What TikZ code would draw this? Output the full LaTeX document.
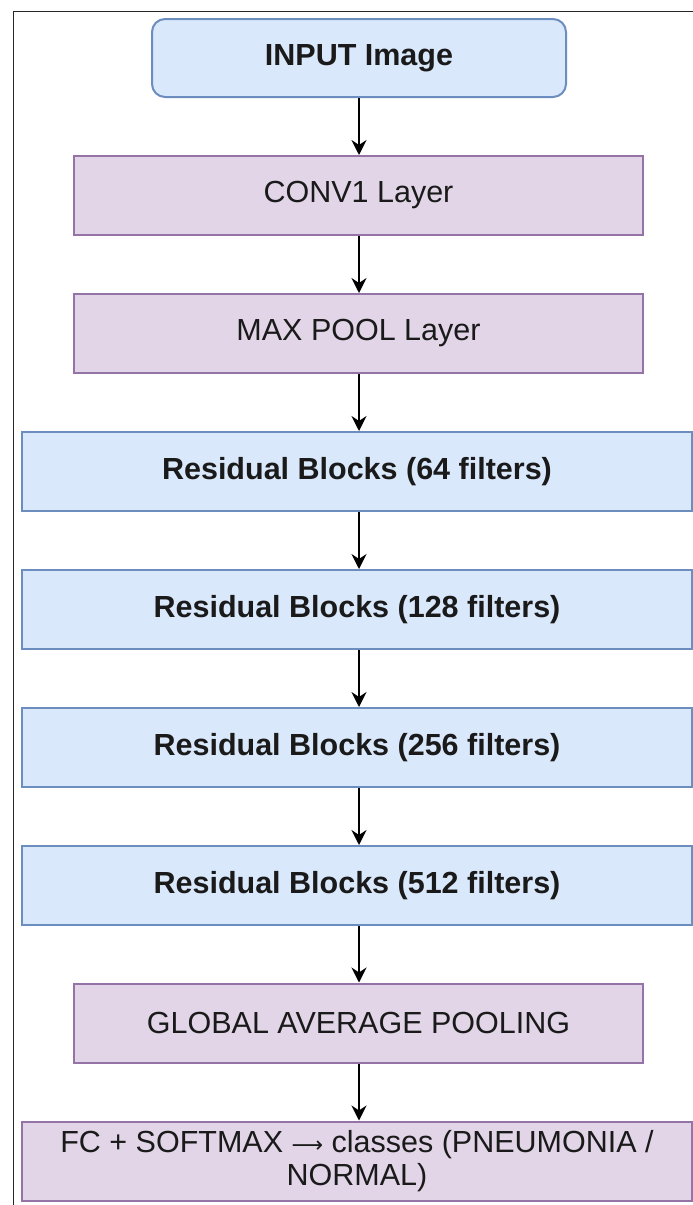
\documentclass[tikz,border=0pt]{standalone}
\usepackage{fontspec}
\setmainfont{Liberation Sans}
\newfontfamily\symfont{DejaVu Sans}
\usetikzlibrary{arrows.meta}

\definecolor{bluefill}{HTML}{DAE8FC}
\definecolor{bluedraw}{HTML}{6C8EBF}
\definecolor{purplefill}{HTML}{E1D5E7}
\definecolor{purpledraw}{HTML}{9673A6}
\definecolor{txt}{HTML}{1A1A1A}

\tikzset{
  base/.style={draw, line width=2pt, minimum height=79pt, inner sep=0pt,
    text=txt, font=\fontsize{30.5}{34}\selectfont},
  bluebox/.style={base, fill=bluefill, draw=bluedraw},
  purplebox/.style={base, fill=purplefill, draw=purpledraw},
  boldtext/.style={font=\bfseries\fontsize{30.5}{34}\selectfont},
  narrow/.style={minimum width=569pt},
  wide/.style={minimum width=670pt},
  flow/.style={line width=2.2pt, black, -{Stealth[length=15pt, width=15pt, inset=5pt]}},
  frameline/.style={line width=1.8pt, black!85}
}

\begin{document}
\begin{tikzpicture}[x=1pt, y=-1pt]
  \useasboundingbox (0,0) rectangle (693,1205);

  % outer frame (top and left edges)
  \draw[frameline] (13.5,1206) -- (13.5,11.5) -- (694,11.5);

  % pipeline stages
  \node[bluebox, boldtext, rounded corners=13pt, minimum width=414pt, minimum height=78pt] (input) at (359,58) {INPUT Image};
  \node[purplebox, narrow] (conv) at (358.5,195.5) {CONV1 Layer};
  \node[purplebox, narrow] (pool) at (358.5,333.5) {MAX POOL Layer};
  \node[bluebox, wide, boldtext] (r64) at (357,471.5) {Residual Blocks (64 filters)};
  \node[bluebox, wide, boldtext] (r128) at (357,609.5) {Residual Blocks (128 filters)};
  \node[bluebox, wide, boldtext] (r256) at (357,747.5) {Residual Blocks (256 filters)};
  \node[bluebox, wide, boldtext] (r512) at (357,885.5) {Residual Blocks (512 filters)};
  \node[purplebox, narrow] (gap) at (358.5,1023) {GLOBAL AVERAGE POOLING};
  \node[purplebox, wide, align=center, font=\fontsize{30.5}{33}\selectfont] (fc) at (357,1161)
    {FC + SOFTMAX {\symfont\fontsize{22}{22}\selectfont ⟶} classes (PNEUMONIA /\\NORMAL)};

  % connectors
  \foreach \a/\b in {input/conv, conv/pool, pool/r64, r64/r128, r128/r256, r256/r512, r512/gap, gap/fc}
    \draw[flow] (\a.south -| 359,0) -- (\b.north -| 359,0);
\end{tikzpicture}
\end{document}
